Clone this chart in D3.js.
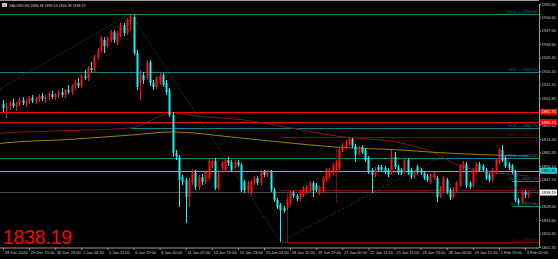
<!DOCTYPE html>
<html><head><meta charset="utf-8">
<script src="https://cdn.jsdelivr.net/npm/d3@7"></script>
<style>body{margin:0;background:#000}svg{display:block}</style>
</head><body>
<script>
// H4 candles: bar index, open, high, low, close
var bars = [
  [0, 1898.0, 1900.7, 1892.6, 1895.3], [1, 1895.3, 1898.7, 1888.5, 1896.6], [2, 1896.6, 1900.0, 1893.9, 1898.7],
  [3, 1898.7, 1901.4, 1895.3, 1896.6], [4, 1896.6, 1899.4, 1893.3, 1898.0], [5, 1898.0, 1902.1, 1896.6, 1900.7],
  [6, 1900.7, 1902.7, 1897.3, 1898.7], [7, 1898.7, 1901.4, 1896.0, 1900.0], [8, 1900.0, 1903.4, 1898.0, 1902.1],
  [9, 1902.1, 1904.1, 1898.7, 1900.0], [10, 1900.0, 1902.7, 1898.0, 1901.4], [11, 1901.4, 1904.8, 1899.4, 1903.4],
  [12, 1903.4, 1905.4, 1900.0, 1901.4], [13, 1901.4, 1904.1, 1898.7, 1902.7], [14, 1902.7, 1906.1, 1900.7, 1904.8],
  [15, 1904.8, 1906.8, 1901.4, 1902.7], [16, 1902.7, 1905.4, 1900.7, 1904.1], [17, 1904.1, 1907.5, 1902.1, 1906.1],
  [18, 1906.1, 1908.8, 1902.7, 1904.1], [19, 1904.1, 1908.1, 1902.1, 1907.5], [20, 1907.5, 1910.8, 1904.8, 1906.1],
  [21, 1906.1, 1911.5, 1904.1, 1910.2], [22, 1910.2, 1914.2, 1907.5, 1912.2], [23, 1912.2, 1915.6, 1908.8, 1910.2],
  [24, 1910.2, 1918.3, 1908.8, 1916.9], [25, 1916.9, 1921.0, 1914.2, 1915.6], [26, 1915.6, 1923.7, 1913.5, 1922.3],
  [27, 1922.3, 1926.4, 1919.6, 1921.0], [28, 1921.0, 1931.1, 1919.0, 1929.8], [29, 1929.8, 1935.9, 1927.7, 1934.5],
  [30, 1934.5, 1944.0, 1933.1, 1942.6], [31, 1941.3, 1943.3, 1932.5, 1937.2], [32, 1937.2, 1944.0, 1935.9, 1942.6],
  [33, 1941.3, 1948.0, 1939.9, 1946.7], [34, 1946.7, 1948.0, 1939.2, 1941.3], [35, 1939.2, 1947.3, 1937.9, 1946.0],
  [36, 1944.6, 1952.8, 1943.3, 1951.4], [37, 1951.4, 1952.8, 1944.0, 1946.0], [38, 1946.0, 1956.1, 1944.6, 1954.8],
  [39, 1953.4, 1959.1, 1948.0, 1957.5], [40, 1956.8, 1958.2, 1931.1, 1932.5], [41, 1932.5, 1934.5, 1907.5, 1909.5],
  [42, 1912.9, 1921.0, 1900.7, 1918.9], [43, 1917.6, 1919.6, 1911.5, 1914.2], [44, 1915.6, 1927.7, 1914.2, 1925.7],
  [45, 1926.4, 1927.7, 1910.2, 1912.2], [46, 1912.2, 1914.2, 1907.5, 1909.5], [47, 1909.5, 1916.9, 1908.1, 1915.6],
  [48, 1912.2, 1918.9, 1910.8, 1917.6], [49, 1917.6, 1918.9, 1909.5, 1910.8], [50, 1912.2, 1914.2, 1904.1, 1906.1],
  [51, 1907.5, 1908.8, 1889.2, 1890.6], [52, 1890.6, 1892.6, 1862.2, 1864.9], [53, 1864.9, 1866.9, 1860.1, 1862.2],
  [54, 1862.2, 1863.5, 1828.4, 1846.6], [55, 1848.6, 1850.0, 1843.2, 1845.3], [56, 1846.6, 1848.0, 1817.5, 1835.1],
  [57, 1835.1, 1848.0, 1828.4, 1846.6], [58, 1845.3, 1854.1, 1843.2, 1852.0], [59, 1851.4, 1853.4, 1839.9, 1841.9],
  [60, 1841.9, 1850.0, 1839.9, 1848.6], [61, 1848.6, 1850.7, 1843.2, 1845.3], [62, 1845.3, 1853.4, 1843.9, 1852.0],
  [63, 1848.0, 1861.5, 1846.6, 1859.5], [64, 1856.8, 1861.5, 1854.7, 1859.5], [65, 1859.5, 1861.5, 1839.9, 1841.2],
  [66, 1841.2, 1853.4, 1839.9, 1851.4], [67, 1854.7, 1859.5, 1853.4, 1858.1], [68, 1853.4, 1861.5, 1852.0, 1860.1],
  [69, 1860.1, 1862.2, 1856.1, 1858.1], [70, 1858.8, 1860.1, 1852.0, 1853.4], [71, 1855.4, 1860.1, 1854.1, 1858.8],
  [72, 1858.8, 1860.1, 1855.4, 1856.8], [73, 1856.8, 1858.1, 1838.5, 1839.9], [74, 1845.3, 1846.6, 1837.8, 1839.9],
  [75, 1839.9, 1845.9, 1837.8, 1844.6], [76, 1838.5, 1846.6, 1836.5, 1845.3], [77, 1844.6, 1849.3, 1843.2, 1848.0],
  [78, 1848.0, 1849.3, 1843.2, 1844.6], [79, 1844.6, 1853.4, 1843.2, 1852.0], [80, 1852.0, 1853.4, 1848.6, 1850.0],
  [81, 1850.0, 1853.4, 1848.6, 1852.0], [82, 1852.0, 1853.4, 1838.5, 1839.9], [83, 1839.9, 1841.2, 1831.7, 1833.1],
  [84, 1833.1, 1834.4, 1827.0, 1828.4], [85, 1829.7, 1831.1, 1804.85, 1826.3], [86, 1827.7, 1829.0, 1824.3, 1825.7],
  [87, 1828.4, 1834.4, 1826.3, 1833.1], [88, 1831.7, 1839.2, 1829.7, 1837.8], [89, 1837.8, 1839.2, 1834.4, 1835.8],
  [90, 1835.8, 1837.2, 1832.4, 1833.8], [91, 1833.8, 1839.9, 1832.4, 1838.5], [92, 1836.5, 1842.6, 1835.1, 1841.2],
  [93, 1838.5, 1843.2, 1837.2, 1841.9], [94, 1839.9, 1845.9, 1838.5, 1844.6], [95, 1844.6, 1845.9, 1835.1, 1839.9],
  [96, 1843.2, 1844.6, 1838.5, 1839.9], [97, 1837.8, 1843.2, 1836.5, 1841.9], [98, 1839.9, 1849.3, 1838.5, 1848.0],
  [99, 1846.6, 1854.7, 1845.3, 1853.4], [100, 1848.6, 1854.7, 1847.3, 1853.4], [101, 1851.4, 1858.1, 1850.0, 1856.8],
  [102, 1853.4, 1860.1, 1852.0, 1858.8], [103, 1854.7, 1868.2, 1853.4, 1866.9], [104, 1866.9, 1871.6, 1865.5, 1870.3],
  [105, 1868.9, 1873.7, 1867.6, 1872.3], [106, 1871.0, 1875.47, 1869.6, 1874.3], [107, 1874.3, 1875.0, 1868.2, 1869.6],
  [108, 1869.6, 1871.0, 1858.8, 1863.5], [109, 1864.9, 1869.6, 1863.5, 1868.2], [110, 1868.9, 1870.3, 1864.2, 1865.5],
  [111, 1866.9, 1868.2, 1858.8, 1860.1], [112, 1861.5, 1862.8, 1850.7, 1852.0], [113, 1853.4, 1854.7, 1837.8, 1850.0],
  [114, 1850.0, 1855.4, 1848.6, 1854.1], [115, 1855.4, 1856.8, 1852.0, 1853.4], [116, 1855.4, 1856.8, 1852.0, 1853.4],
  [117, 1854.7, 1856.1, 1850.7, 1852.0], [118, 1853.4, 1854.7, 1848.6, 1850.0], [119, 1851.4, 1866.9, 1850.0, 1862.2],
  [120, 1862.2, 1865.5, 1854.1, 1855.4], [121, 1855.4, 1856.8, 1850.0, 1851.4], [122, 1853.4, 1854.7, 1850.0, 1851.4],
  [123, 1852.0, 1861.5, 1850.7, 1860.1], [124, 1860.1, 1861.5, 1850.0, 1851.4], [125, 1853.4, 1854.7, 1847.3, 1848.6],
  [126, 1848.6, 1853.4, 1847.3, 1852.0], [127, 1855.4, 1856.8, 1850.7, 1852.0], [128, 1853.4, 1854.7, 1850.0, 1851.4],
  [129, 1851.4, 1852.7, 1846.6, 1848.0], [130, 1849.3, 1850.7, 1845.3, 1846.6], [131, 1845.3, 1851.4, 1843.9, 1850.0],
  [132, 1848.0, 1852.0, 1846.6, 1850.7], [133, 1848.0, 1849.3, 1831.7, 1835.1], [134, 1835.8, 1842.6, 1834.4, 1841.2],
  [135, 1839.9, 1849.3, 1838.5, 1848.0], [136, 1846.6, 1848.0, 1837.2, 1838.5], [137, 1839.9, 1841.2, 1833.1, 1834.4],
  [138, 1835.1, 1841.9, 1833.8, 1841.2], [139, 1839.9, 1845.9, 1838.5, 1844.6], [140, 1843.2, 1857.4, 1841.9, 1856.1],
  [141, 1854.7, 1859.5, 1853.4, 1858.1], [142, 1857.4, 1858.8, 1841.2, 1843.2], [143, 1844.6, 1845.9, 1840.5, 1841.9],
  [144, 1842.6, 1854.7, 1841.2, 1853.4], [145, 1852.0, 1858.8, 1850.7, 1857.4], [146, 1857.4, 1858.8, 1852.0, 1853.4],
  [147, 1856.1, 1857.4, 1852.0, 1853.4], [148, 1853.4, 1854.7, 1846.6, 1848.0], [149, 1850.0, 1851.4, 1845.3, 1846.6],
  [150, 1846.6, 1854.7, 1845.3, 1853.4], [151, 1852.0, 1861.5, 1850.7, 1860.1], [152, 1858.8, 1868.2, 1857.4, 1866.9],
  [153, 1866.9, 1870.3, 1858.8, 1860.1], [154, 1861.5, 1862.8, 1854.7, 1856.1], [155, 1857.4, 1858.8, 1853.4, 1854.7],
  [156, 1856.1, 1857.4, 1850.7, 1852.0], [157, 1852.0, 1853.4, 1831.7, 1833.1], [158, 1833.1, 1834.4, 1829.36, 1831.1],
  [159, 1831.7, 1839.2, 1830.4, 1838.5], [160, 1838.5, 1839.9, 1834.4, 1836.4], [161, 1836.38, 1839.14, 1834.38, 1838.19]
];
var yTicks = [1965.60, 1956.60, 1947.60, 1938.60, 1929.35, 1920.10, 1911.10, 1901.85,
  1892.85, 1883.60, 1874.35, 1865.35, 1856.10, 1847.10, 1828.60, 1819.60, 1810.35, 1801.35];
var xLabels = ["28 Dec 2020", "29 Dec 15:00", "30 Dec 23:00", "1 Jan 04:00", "5 Jan 11:00",
  "6 Jan 19:00", "8 Jan 00:00", "11 Jan 07:00", "12 Jan 15:00", "13 Jan 23:00", "15 Jan 04:00",
  "18 Jan 11:00", "19 Jan 19:00", "21 Jan 00:00", "22 Jan 11:00", "25 Jan 15:00", "26 Jan 23:00",
  "28 Jan 04:00", "29 Jan 15:00", "1 Feb 19:00", "3 Feb 00:00"];
// moving averages, read at a few bars: [bar, value]
var maRed = [[-1, 1878.0], [0, 1878.4], [20, 1880.0], [39, 1881.8], [52, 1891.9], [59, 1889.9], [74, 1887.2], [85, 1883.1],
  [102, 1876.4], [122, 1871.6], [131, 1866.2], [140, 1856.1], [149, 1852.0], [158, 1850.0], [161, 1849.3]];
var maOlive = [[-1, 1871.2], [0, 1871.6], [20, 1874.0], [39, 1877.0], [52, 1879.1], [70, 1875.7], [85, 1872.3],
  [102, 1868.9], [122, 1866.9], [131, 1865.5], [161, 1862.8]];
// horizontal objects: value, first bar (-1 = whole width), colour, caption
var levels = [
  [1959.08, -1, "#0b8585", "100.0 \u2192 1959.08"],
  [1919.75, -1, "#0b8585", "50.0 \u2192 1919.75"],
  [1892.75, -1, "#ff0000", ""],
  [1885.75, -1, "#ff0000", ""],
  [1881.75, 39, "#0b8585", "61.8 \u2192 1881.75"],
  [1875.47, 85, "#7d0a0a", "100.0 \u2192 1875.47"],
  [1861.82, -1, "#0b8585", "38.2 \u2192 1861.82"],
  [1852.85, -1, "#1fd0d0", ""],
  [1845.79, 156, "#0b8585", "23.6 \u2192 1845.79"],
  [1840.16, 85, "#7d0a0a", "50.0 \u2192 1840.16"],
  [1829.36, 156, "#0b8585", "0.0 \u2192 1829.36"],
  [1804.85, 85, "#7d0a0a", "0.0 \u2192 1804.85"]
];
var trend = [[-1, 1908.1], [39, 1959.08], [85, 1804.85], [134, 1862.0]];
var drops = [[87, 1804.85, 1837.8], [102, 1831.7, 1868.2]];
var lastPrice = 1838.19;

var width = 558, height = 259, right = 539, bottom = 248;
var svg = d3.select("body").append("svg").attr("width", width).attr("height", height)
  .style("background", "#000");

var x = d3.scaleLinear().domain([0, 160]).range([3, 525]);
var y = d3.scaleLinear().domain([1801.35, 1965.60]).range([247, 4]);

svg.append("clipPath").attr("id", "clip").append("rect")
  .attr("x", 0).attr("y", 1).attr("width", right).attr("height", bottom - 1);
var g = svg.append("g").attr("clip-path", "url(#clip)");
var py = function(v) { return Math.round(y(v)) + 0.5; };

// fibo and price levels
g.selectAll(".lvl").data(levels).enter().append("line")
  .attr("x1", function(d) { return d[1] < 0 ? 0 : x(d[1]); })
  .attr("x2", right)
  .attr("y1", function(d) { return py(d[0]); })
  .attr("y2", function(d) { return py(d[0]); })
  .attr("stroke", function(d) { return d[2]; });

g.selectAll(".drop").data(drops).enter().append("line")
  .attr("x1", function(d) { return Math.round(x(d[0])) + 0.5; })
  .attr("x2", function(d) { return Math.round(x(d[0])) + 0.5; })
  .attr("y1", function(d) { return y(d[1]); })
  .attr("y2", function(d) { return y(d[2]); })
  .attr("stroke", "#7d0a0a");

// bid line
g.append("line").attr("x1", 0).attr("x2", right)
  .attr("y1", py(lastPrice)).attr("y2", py(lastPrice))
  .attr("stroke", "#4a4a4a");

// moving averages
var ma = d3.line().x(function(d) { return x(d[0]); }).y(function(d) { return y(d[1]); }).curve(d3.curveMonotoneX);
g.append("path").datum(maRed).attr("d", ma).attr("fill", "none").attr("stroke", "#8a1414");
g.append("path").datum(maOlive).attr("d", ma).attr("fill", "none").attr("stroke", "#8f8a00");

// dotted fibo trend lines
g.append("path").datum(trend).attr("d", d3.line().x(function(d) { return x(d[0]); }).y(function(d) { return y(d[1]); }))
  .attr("fill", "none").attr("stroke", "#0e6b4a").attr("stroke-dasharray", "1,2");

// candles
var col = function(d) { return d[4] >= d[1] ? "#ff1010" : "#19f0f0"; };
g.selectAll(".wick").data(bars).enter().append("line")
  .attr("x1", function(d) { return Math.round(x(d[0])) + 0.5; })
  .attr("x2", function(d) { return Math.round(x(d[0])) + 0.5; })
  .attr("y1", function(d) { return y(d[2]); })
  .attr("y2", function(d) { return y(d[3]); })
  .attr("stroke", col);
g.selectAll(".body").data(bars).enter().append("rect")
  .attr("x", function(d) { return Math.round(x(d[0])) - 0.5; })
  .attr("width", 2)
  .attr("y", function(d) { return y(Math.max(d[1], d[4])); })
  .attr("height", function(d) { return Math.max(1, Math.abs(y(d[1]) - y(d[4]))); })
  .attr("fill", col);

// level captions
g.selectAll(".cap").data(levels.filter(function(d) { return d[3]; })).enter().append("text")
  .attr("x", right - 2).attr("y", function(d) { return y(d[0]) - 1; })
  .attr("text-anchor", "end")
  .attr("fill", function(d) { return d[2]; })
  .style("font", "4px 'Liberation Sans'")
  .text(function(d) { return d[3]; });

// axes
var yAxis = d3.axisRight(y).tickValues(yTicks).tickSize(2).tickFormat(d3.format(".2f"));
svg.append("g").attr("transform", "translate(" + right + ",0)").call(yAxis)
  .call(function(s) {
    s.select(".domain").attr("stroke", "#9a9a9a");
    s.selectAll(".tick line").attr("stroke", "#9a9a9a");
    s.selectAll("text").attr("x", 2.5).attr("fill", "#c8c8c8").style("font", "4px 'Liberation Sans'");
  });

var xAxis = d3.axisBottom(x).tickValues(d3.range(0, 161, 8)).tickSize(2)
  .tickFormat(function(d, i) { return xLabels[i]; });
svg.append("g").attr("transform", "translate(0," + bottom + ")").call(xAxis)
  .call(function(s) {
    s.select(".domain").attr("stroke", "#9a9a9a").attr("d", "M0,0H" + right);
    s.selectAll(".tick line").attr("stroke", "#9a9a9a");
    s.selectAll("text").attr("y", 3.5).attr("dx", "0.3em").attr("text-anchor", "start")
      .attr("fill", "#c8c8c8").style("font", "4px 'Liberation Sans'");
  });

svg.append("line").attr("x1", 0).attr("x2", right).attr("y1", 0.5).attr("y2", 0.5).attr("stroke", "#9a9a9a");

// price tags on the axis
var tags = [[1892.75, "#ff0000", "#fff"], [1885.75, "#ff0000", "#fff"], [1852.85, "#1fd0d0", "#000"], [lastPrice, "#ffffff", "#000"]];
var tg = svg.selectAll(".tag").data(tags).enter().append("g")
  .attr("transform", function(d) { return "translate(" + (right + 1) + "," + y(d[0]) + ")"; });
tg.append("rect").attr("x", 0).attr("y", -3).attr("width", 17).attr("height", 6).attr("fill", function(d) { return d[1]; });
tg.append("text").attr("x", 1.5).attr("y", 1.5).attr("fill", function(d) { return d[2]; })
  .style("font", "4px 'Liberation Sans'").text(function(d) { return d[0].toFixed(2); });

// title
svg.append("rect").attr("x", 2).attr("y", 3).attr("width", 5).attr("height", 4).attr("fill", "#bbb");
svg.append("text").attr("x", 9).attr("y", 7).attr("fill", "#d0d0d0").style("font", "3.6px 'Liberation Sans'")
  .text("XAUUSD,H4  1836.38 1839.14 1834.38 1838.19");

svg.append("text").attr("x", 3).attr("y", 243.5).attr("fill", "#ff0000")
  .attr("textLength", 69).attr("lengthAdjust", "spacingAndGlyphs")
  .style("font", "21px 'Liberation Sans'").text(lastPrice.toFixed(2));
</script>
</body></html>
